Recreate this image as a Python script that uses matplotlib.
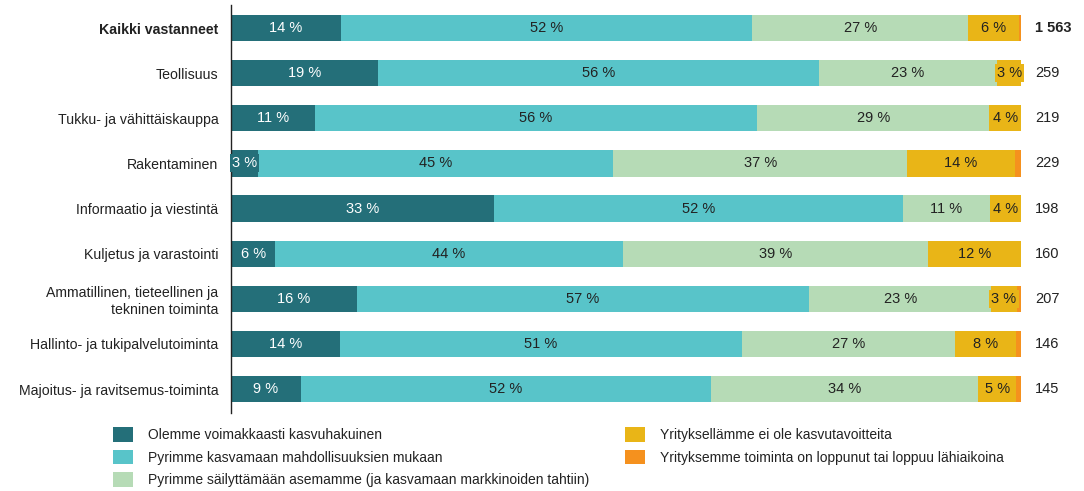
import numpy as np
import matplotlib.pyplot as plt
from matplotlib.patches import Patch

plt.rcParams['font.family'] = ['Liberation Sans', 'DejaVu Sans']

toimialat = ["Kaikki vastanneet", "Teollisuus", "Tukku- ja vähittäiskauppa", "Rakentaminen",
             "Informaatio ja viestintä", "Kuljetus ja varastointi",
             "Ammatillinen, tieteellinen ja\ntekninen toiminta",
             "Hallinto- ja tukipalvelutoiminta", "Majoitus- ja ravitsemus-toiminta"]
vastaajat = ["1 563", "259", "219", "229", "198", "160", "207", "146", "145"]

voimakas = [13.9, 18.6, 10.6, 3.4, 33.3, 5.6, 15.9, 13.8, 8.8]
mahdollisuus = [52.1, 55.8, 56.0, 45.0, 51.7, 44.0, 57.3, 50.9, 51.9]
sailyttaa = [27.3, 22.6, 29.4, 37.2, 11.1, 38.6, 23.0, 26.9, 33.9]
ei_tavoitteita = [6.4, 3.0, 4.0, 13.6, 3.9, 11.8, 3.3, 7.8, 4.8]
loppuu = [0.3, 0.0, 0.0, 0.8, 0.0, 0.0, 0.5, 0.6, 0.6]

sarjat = ["Olemme voimakkaasti kasvuhakuinen",
          "Pyrimme kasvamaan mahdollisuuksien mukaan",
          "Pyrimme säilyttämään asemamme (ja kasvamaan markkinoiden tahtiin)",
          "Yrityksellämme ei ole kasvutavoitteita",
          "Yrityksemme toiminta on loppunut tai loppuu lähiaikoina"]
varit = ["#246f79", "#58c4c9", "#b6dbb6", "#e9b517", "#f5911e"]
tekstivarit = ["white", "#222222", "#222222", "#222222", None]

fig = plt.figure(figsize=(10.84, 4.91), dpi=100)
ax = fig.add_axes([0.2131, 0.1589, 0.7288, 0.8309])

y = np.arange(len(toimialat))
vasen = np.zeros(len(toimialat))
for arvot, vari, tv in zip([voimakas, mahdollisuus, sailyttaa, ei_tavoitteita, loppuu],
                           varit, tekstivarit):
    arvot = np.array(arvot)
    ax.barh(y, arvot, left=vasen, height=0.58, color=vari, linewidth=0)
    if tv is not None:
        for yi, v, l in zip(y, arvot, vasen):
            if v > 0:
                ax.text(l + v / 2, yi, f"{v:.0f} %", ha='center', va='center',
                        fontsize=10.5, color=tv,
                        bbox=dict(facecolor=vari, edgecolor='none', pad=1.5))
    vasen += arvot

for yi, n in zip(y, vastaajat):
    ax.text(101.8, yi, n, ha='left', va='center', fontsize=10.5, color='#222222',
            fontweight='bold' if yi == 0 else 'normal')

ax.set_xlim(0, 100)
ax.set_ylim(len(toimialat) - 0.47, -0.51)
ax.set_yticks(y)
ax.set_yticklabels(toimialat, fontsize=10.2, color='#222222')
ax.get_yticklabels()[0].set_fontweight('bold')
ax.tick_params(axis='y', length=0, pad=9)
ax.set_xticks([])
for s in ['top', 'right', 'bottom']:
    ax.spines[s].set_visible(False)
ax.spines['left'].set_color('#222222')
ax.spines['left'].set_linewidth(1.0)

kahvat = [Patch(facecolor=c, edgecolor='none') for c in varit]
fig.legend(kahvat, sarjat, ncol=2, loc='upper left', bbox_to_anchor=(0.093, 0.155),
           frameon=False, fontsize=10, handlelength=1.4, handleheight=1.2,
           labelspacing=0.55, columnspacing=2.6, handletextpad=1.1,
           labelcolor='#222222')

fig.savefig("out.png", dpi=100)
